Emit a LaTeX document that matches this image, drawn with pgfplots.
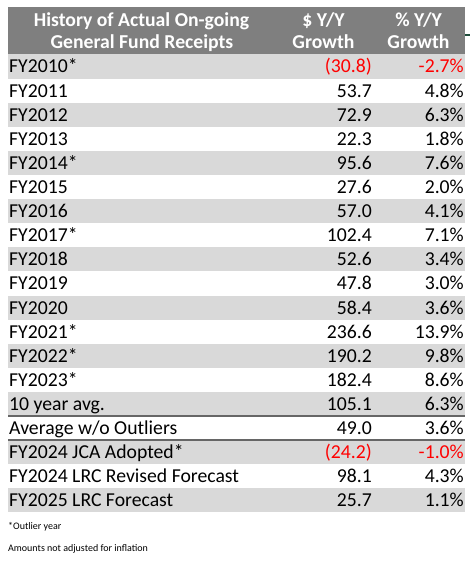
\documentclass[border=0pt]{standalone}
\usepackage{fontspec}
\setmainfont{Carlito}
\usepackage{pgfplots}
\pgfplotsset{compat=1.18}
\usepackage{pgfplotstable}
\definecolor{rowgray}{HTML}{D9D9D9}
\definecolor{headgray}{HTML}{7F7F7F}
\definecolor{negred}{HTML}{FF0000}
\definecolor{rulegray}{HTML}{666666}
\definecolor{tickgreen}{HTML}{1F4D3B}
\newcommand{\bodyfont}{\fontsize{19.7bp}{22bp}\selectfont}
\newcommand{\notefont}{\fontsize{10bp}{12bp}\selectfont}

\pgfplotstableread[col sep=comma]{
row,label,dollar,pct
1,FY2011,53.7,4.8
2,FY2012,72.9,6.3
3,FY2013,22.3,1.8
4,FY2014*,95.6,7.6
5,FY2015,27.6,2.0
6,FY2016,57.0,4.1
7,FY2017*,102.4,7.1
8,FY2018,52.6,3.4
9,FY2019,47.8,3.0
10,FY2020,58.4,3.6
11,FY2021*,236.6,13.9
12,FY2022*,190.2,9.8
13,FY2023*,182.4,8.6
14,10 year avg.,105.1,6.3
15,Average w/o Outliers,49.0,3.6
17,FY2024 LRC Revised Forecast,98.1,4.3
18,FY2025 LRC Forecast,25.7,1.1
}\rowsdata

\pgfplotstableread[col sep=comma]{
row,label,dollar,pct
0,FY2010*,-30.8,-2.7
16,FY2024 JCA Adopted*,-24.2,-1.0
}\negdata

\pgfplotsset{
  txt/.style={draw=none, mark=none, nodes near coords,
    every node near coord/.style={inner sep=0pt, font=\bodyfont, text=black, anchor=base east}},
  band/.style={fill=rowgray, draw=none, mark=none},
}

\begin{document}
\begin{tikzpicture}
\begin{axis}[
  at={(0,0)}, anchor=south west,
  width=470bp, height=566bp, scale only axis,
  xmin=0, xmax=470, ymin=0, ymax=566, y dir=reverse,
  hide axis, clip=false,
]
% header band
\addplot[fill=headgray, draw=none, mark=none] coordinates {(8,7) (465,7) (465,54.5) (8,54.5)};
\addplot[tickgreen, line width=2bp, mark=none] coordinates {(465,35.5) (470,35.5)};
% alternating row bands
\addplot[band] coordinates {(8,54.5) (465,54.5) (465,78.6) (8,78.6)};
\addplot[band] coordinates {(8,102.7) (465,102.7) (465,126.8) (8,126.8)};
\addplot[band] coordinates {(8,150.9) (465,150.9) (465,175.0) (8,175.0)};
\addplot[band] coordinates {(8,199.1) (465,199.1) (465,223.2) (8,223.2)};
\addplot[band] coordinates {(8,247.3) (465,247.3) (465,271.4) (8,271.4)};
\addplot[band] coordinates {(8,295.5) (465,295.5) (465,319.6) (8,319.6)};
\addplot[band] coordinates {(8,343.7) (465,343.7) (465,367.8) (8,367.8)};
\addplot[band] coordinates {(8,391.9) (465,391.9) (465,416.0) (8,416.0)};
\addplot[band] coordinates {(8,440.1) (465,440.1) (465,464.2) (8,464.2)};
\addplot[band] coordinates {(8,488.3) (465,488.3) (465,512.4) (8,512.4)};
% rules around the average row
\addplot[rulegray, line width=1.6bp, mark=none] coordinates {(8,416.0) (465,416.0)};
\addplot[rulegray, line width=1.6bp, mark=none] coordinates {(8,440.1) (465,440.1)};

% header text
\addplot[draw=none, mark=none, point meta=explicit symbolic, nodes near coords,
  every node near coord/.style={inner sep=0pt, anchor=base, text=white, font=\bodyfont\bfseries}]
  coordinates {(141.5,26.7) [History of Actual On-going] (142,48.3) [General Fund Receipts]
               (323.5,26.7) [\$ Y/Y] (323.5,48.3) [Growth]
               (418.5,26.7) [\% Y/Y] (418.5,48.3) [Growth]};

% row labels
\addplot[txt, point meta=explicit symbolic, every node near coord/.append style={anchor=base west}]
  table[x expr=9, y expr={73.0+24.1*\thisrow{row}}, meta=label] {\rowsdata};
\addplot[txt, point meta=explicit symbolic, every node near coord/.append style={anchor=base west}]
  table[x expr=9, y expr={73.0+24.1*\thisrow{row}}, meta=label] {\negdata};

% $ Y/Y growth
\addplot[txt, point meta=\thisrow{dollar},
  nodes near coords={\pgfmathprintnumber[fixed,fixed zerofill,precision=1,assume math mode=true]{\pgfplotspointmeta}}]
  table[x expr=372, y expr={73.0+24.1*\thisrow{row}}] {\rowsdata};
\addplot[txt, point meta={abs(\thisrow{dollar})},
  every node near coord/.append style={text=negred},
  nodes near coords={(\pgfmathprintnumber[fixed,fixed zerofill,precision=1,assume math mode=true]{\pgfplotspointmeta})}]
  table[x expr=372, y expr={73.0+24.1*\thisrow{row}}] {\negdata};

% % Y/Y growth
\addplot[txt, point meta=\thisrow{pct},
  nodes near coords={\pgfmathprintnumber[fixed,fixed zerofill,precision=1,assume math mode=true]{\pgfplotspointmeta}\%}]
  table[x expr=464, y expr={73.0+24.1*\thisrow{row}}] {\rowsdata};
\addplot[txt, point meta=\thisrow{pct},
  every node near coord/.append style={text=negred},
  nodes near coords={\pgfmathprintnumber[fixed,fixed zerofill,precision=1,assume math mode=true]{\pgfplotspointmeta}\%}]
  table[x expr=464, y expr={73.0+24.1*\thisrow{row}}] {\negdata};

% footnotes
\addplot[draw=none, mark=none, point meta=explicit symbolic, nodes near coords,
  every node near coord/.style={inner sep=0pt, anchor=base west, text=black, font=\notefont}]
  coordinates {(8,529) [*Outlier year] (8,551) [Amounts not adjusted for inflation]};
\end{axis}
\pgfresetboundingbox
\path (0,0) rectangle (470bp,566bp);
\end{tikzpicture}
\end{document}
